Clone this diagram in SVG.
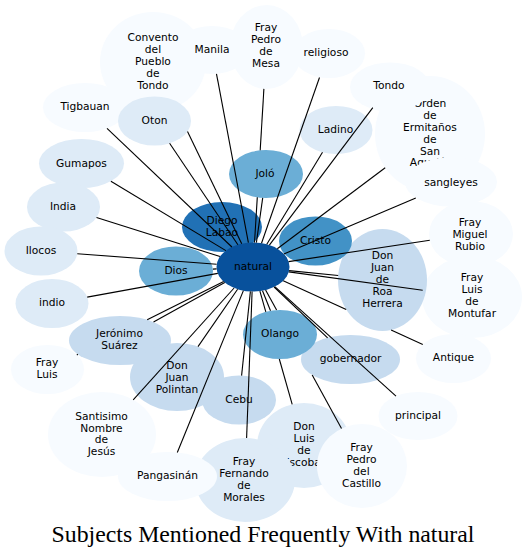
<svg xmlns="http://www.w3.org/2000/svg" width="527" height="558" viewBox="0 0 527 558">
<style>
.n text{font-family:"DejaVu Sans","Bitstream Vera Sans",Verdana,sans-serif;font-size:10.67px;fill:#000;text-anchor:middle}
.c0{fill:#f7fbff}.c1{fill:#deebf7}.c2{fill:#c6dbef}.c4{fill:#6baed6}.c5{fill:#4292c6}.c6{fill:#2171b5}.c7{fill:#08519c}
#edges line{stroke:#000;stroke-width:1.1;fill:none}
.title{font-family:"Liberation Serif","Times New Roman",serif;font-size:23.8px;fill:#000;text-anchor:middle}
</style>
<rect width="527" height="558" fill="#fff"/>
<g id="n-convento" class="n"><ellipse class="c0" cx="153" cy="62" rx="53" ry="50"/><text x="153" y="41.3">Convento</text><text x="153" y="53.1">del</text><text x="153" y="64.9">Pueblo</text><text x="153" y="76.7">de</text><text x="153" y="88.5">Tondo</text></g>
<g id="n-manila" class="n"><ellipse class="c0" cx="212" cy="50" rx="37" ry="24"/><text x="212" y="52.9">Manila</text></g>
<g id="n-mesa" class="n"><ellipse class="c0" cx="266.5" cy="47" rx="36.5" ry="42"/><text x="266" y="31.2">Fray</text><text x="266" y="43">Pedro</text><text x="266" y="54.8">de</text><text x="266" y="66.6">Mesa</text></g>
<g id="n-religioso" class="n"><ellipse class="c0" cx="329" cy="53.5" rx="36" ry="24.5"/><text x="326" y="56.4">religioso</text></g>
<g id="n-tigbauan" class="n"><ellipse class="c0" cx="85" cy="107.5" rx="42" ry="24.5"/><text x="85" y="110.4">Tigbauan</text></g>
<g id="n-oton" class="n"><ellipse class="c1" cx="154.5" cy="121" rx="36.5" ry="24.5"/><text x="154.5" y="123.9">Oton</text></g>
<g id="n-gumapos" class="n"><ellipse class="c1" cx="81.5" cy="163.5" rx="42.5" ry="24.5"/><text x="81.5" y="166.6">Gumapos</text></g>
<g id="n-india" class="n"><ellipse class="c1" cx="63.5" cy="207" rx="36.5" ry="24.5"/><text x="63" y="210.3">India</text></g>
<g id="n-ilocos" class="n"><ellipse class="c1" cx="41" cy="251" rx="36.5" ry="24.5"/><text x="41" y="253.9">Ilocos</text></g>
<g id="n-indio" class="n"><ellipse class="c1" cx="52" cy="303.5" rx="36.5" ry="24.5"/><text x="52" y="306.4">indio</text></g>
<g id="n-orden" class="n"><ellipse class="c0" cx="430" cy="134" rx="55" ry="58"/><text x="430" y="107.4">Orden</text><text x="430" y="119.2">de</text><text x="430" y="131">Ermitaños</text><text x="430" y="142.8">de</text><text x="430" y="154.6">San</text><text x="430" y="166.4">Agustín</text></g>
<g id="n-tondo" class="n"><ellipse class="c0" cx="390" cy="87" rx="40" ry="24.5"/><text x="389" y="89.3">Tondo</text></g>
<g id="n-sangleyes" class="n"><ellipse class="c0" cx="451" cy="182" rx="46" ry="24.5"/><text x="451" y="186.3">sangleyes</text></g>
<g id="n-ladino" class="n"><ellipse class="c1" cx="336" cy="130" rx="36.5" ry="24"/><text x="335.5" y="132.6">Ladino</text></g>
<g id="n-rubio" class="n"><ellipse class="c0" cx="471" cy="234" rx="42" ry="33"/><text x="470" y="226">Fray</text><text x="470" y="237.8">Miguel</text><text x="470" y="249.6">Rubio</text></g>
<g id="n-montufar" class="n"><ellipse class="c0" cx="472" cy="297" rx="50" ry="41"/><text x="472" y="281.2">Fray</text><text x="472" y="293">Luis</text><text x="472" y="304.8">de</text><text x="472" y="316.6">Montufar</text></g>
<g id="n-roa" class="n"><ellipse class="c2" cx="382.5" cy="280" rx="44.5" ry="51"/><text x="382.5" y="259.3">Don</text><text x="382.5" y="271.1">Juan</text><text x="382.5" y="282.9">de</text><text x="382.5" y="294.7">Roa</text><text x="382.5" y="306.5">Herrera</text></g>
<g id="n-antique" class="n"><ellipse class="c0" cx="453.5" cy="358.5" rx="37.5" ry="24.5"/><text x="453.5" y="361.2">Antique</text></g>
<g id="n-gobernador" class="n"><ellipse class="c2" cx="350.5" cy="359.5" rx="49.5" ry="24.5"/><text x="350.5" y="362.3">gobernador</text></g>
<g id="n-olango" class="n"><ellipse class="c4" cx="280" cy="334.5" rx="37" ry="24.5"/><text x="280" y="337.3">Olango</text></g>
<g id="n-principal" class="n"><ellipse class="c0" cx="418" cy="416" rx="39.5" ry="24"/><text x="418" y="418.9">principal</text></g>
<g id="n-escobar" class="n"><ellipse class="c1" cx="304" cy="445.5" rx="47" ry="42.5"/><text x="304" y="430.2">Don</text><text x="304" y="442">Luis</text><text x="304" y="453.8">de</text><text x="304" y="465.6">Escobar</text></g>
<g id="n-fernando" class="n"><ellipse class="c1" cx="245" cy="480" rx="50" ry="42"/><text x="244" y="465.4">Fray</text><text x="244" y="477.2">Fernando</text><text x="244" y="489">de</text><text x="244" y="500.8">Morales</text></g>
<g id="n-castillo" class="n"><ellipse class="c0" cx="362" cy="466" rx="45" ry="42"/><text x="361.5" y="451.2">Fray</text><text x="361.5" y="463">Pedro</text><text x="361.5" y="474.8">del</text><text x="361.5" y="486.6">Castillo</text></g>
<g id="n-santisimo" class="n"><ellipse class="c0" cx="102" cy="434.5" rx="54" ry="42.5"/><text x="101.5" y="419.7">Santisimo</text><text x="101.5" y="431.5">Nombre</text><text x="101.5" y="443.3">de</text><text x="101.5" y="455.1">Jesús</text></g>
<g id="n-pangasinan" class="n"><ellipse class="c0" cx="167.5" cy="476.5" rx="49.5" ry="24.5"/><text x="167.5" y="479.4">Pangasinán</text></g>
<g id="n-frayluis" class="n"><ellipse class="c0" cx="47.5" cy="369.5" rx="36.5" ry="24.5"/><text x="47" y="366.3">Fray</text><text x="47" y="378.1">Luis</text></g>
<g id="n-jeronimo" class="n"><ellipse class="c2" cx="120" cy="340.5" rx="51" ry="24.5"/><text x="119.5" y="337.3">Jerónimo</text><text x="119.5" y="349.1">Suárez</text></g>
<g id="n-polintan" class="n"><ellipse class="c2" cx="177" cy="377" rx="47" ry="34"/><text x="177" y="369.3">Don</text><text x="177" y="381.1">Juan</text><text x="177" y="392.9">Polintan</text></g>
<g id="n-cebu" class="n"><ellipse class="c2" cx="239" cy="400" rx="37" ry="24.5"/><text x="239" y="403">Cebu</text></g>
<g id="n-jolo" class="n"><ellipse class="c4" cx="266" cy="174" rx="37" ry="24"/><text x="265" y="176.9">Joló</text></g>
<g id="n-diego" class="n"><ellipse class="c6" cx="222" cy="227" rx="40" ry="25"/><text x="222" y="224">Diego</text><text x="222" y="235.8">Labao</text></g>
<g id="n-dios" class="n"><ellipse class="c4" cx="176" cy="271" rx="37" ry="24.5"/><text x="176" y="273.9">Dios</text></g>
<g id="n-cristo" class="n"><ellipse class="c5" cx="315.5" cy="241" rx="36.5" ry="24.5"/><text x="315.5" y="243.9">Cristo</text></g>
<g id="n-natural" class="n"><ellipse class="c7" cx="253" cy="267" rx="36.5" ry="24.5"/><text x="253" y="269.9">natural</text></g>
<g id="edges">
<line x1="241.7" y1="243.7" x2="187.5" y2="131.4"/>
<line x1="248.4" y1="242.7" x2="216.5" y2="73.8"/>
<line x1="254.5" y1="242.5" x2="257.3" y2="197.3"/>
<line x1="260.2" y1="150.3" x2="263.9" y2="88.9"/>
<line x1="261.5" y1="243.2" x2="319.5" y2="77.5"/>
<line x1="269.4" y1="245.1" x2="372.8" y2="107.6"/>
<line x1="266.8" y1="244.3" x2="322.5" y2="152.3"/>
<line x1="256.4" y1="242.6" x2="262.7" y2="197.9"/>
<line x1="277.3" y1="248.7" x2="385.2" y2="167.7"/>
<line x1="283.9" y1="253.9" x2="415.8" y2="197.9"/>
<line x1="288.6" y1="261.6" x2="429.8" y2="240.2"/>
<line x1="289.1" y1="270.6" x2="338.2" y2="275.5"/>
<line x1="288.8" y1="271.9" x2="422.7" y2="290.2"/>
<line x1="283.2" y1="280.8" x2="346.2" y2="309.5"/>
<line x1="391.1" y1="330" x2="422.8" y2="344.5"/>
<line x1="274.1" y1="287" x2="327.6" y2="337.8"/>
<line x1="274.8" y1="286.7" x2="396" y2="396.1"/>
<line x1="262.5" y1="290.7" x2="270.5" y2="310.8"/>
<line x1="265.6" y1="290" x2="276.6" y2="310.1"/>
<line x1="312.2" y1="375" x2="341.5" y2="428.6"/>
<line x1="259.9" y1="291.1" x2="265.8" y2="311.9"/>
<line x1="279.3" y1="359" x2="292.2" y2="404.4"/>
<line x1="252.1" y1="291.5" x2="246.6" y2="438"/>
<line x1="250.4" y1="291.4" x2="241.6" y2="375.6"/>
<line x1="243.4" y1="290.6" x2="177.3" y2="452.5"/>
<line x1="234.1" y1="288" x2="133.2" y2="399.8"/>
<line x1="237.6" y1="289.2" x2="198" y2="346.6"/>
<line x1="224.8" y1="282.6" x2="153.5" y2="322"/>
<line x1="223.7" y1="281.6" x2="147.2" y2="319.8"/>
<line x1="77.9" y1="354.3" x2="76.8" y2="354.9"/>
<line x1="217.8" y1="273.4" x2="87.2" y2="297.1"/>
<line x1="216.6" y1="268.9" x2="212.9" y2="269.1"/>
<line x1="216.7" y1="264.3" x2="77.3" y2="253.7"/>
<line x1="220" y1="256.5" x2="96.5" y2="217.5"/>
<line x1="225.9" y1="250.6" x2="110.9" y2="181.2"/>
<line x1="231.9" y1="247" x2="107" y2="128.4"/>
<line x1="237.9" y1="244.7" x2="169.6" y2="143.3"/>
</g>
<text class="title" x="263" y="542">Subjects Mentioned Frequently With natural</text>
</svg>
